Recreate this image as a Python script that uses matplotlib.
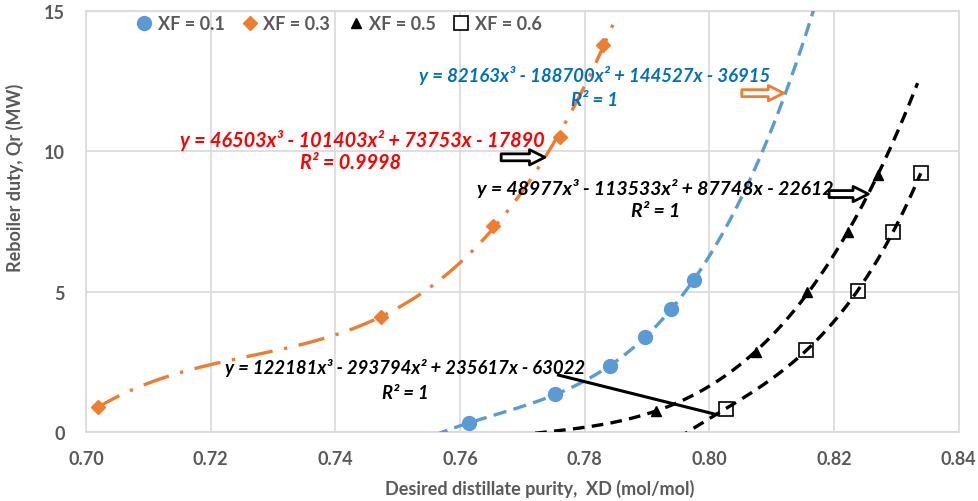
import numpy as np
import matplotlib
matplotlib.use("Agg")
import matplotlib.pyplot as plt

plt.rcParams['font.family'] = ['Lato', 'DejaVu Sans']

# ----------------- DATA -----------------
xd_01 = [0.7614, 0.7752, 0.7841, 0.7897, 0.7939, 0.7975]
qr_01 = [0.31, 1.33, 2.35, 3.38, 4.38, 5.42]

xd_03 = [0.7019, 0.7474, 0.7653, 0.7761, 0.7829]
qr_03 = [0.87, 4.10, 7.35, 10.52, 13.80]

xd_05 = [0.7915, 0.8074, 0.8157, 0.8222, 0.8270]
qr_05 = [0.75, 2.83, 4.97, 7.11, 9.16]

xd_06 = [0.8026, 0.8155, 0.8239, 0.8294, 0.8339]
qr_06 = [0.81, 2.93, 5.01, 7.13, 9.22]

# cubic trendline coefficients as printed (highest power first)
coef_01 = [82163, -188700, 144527, -36915]
coef_03 = [46503, -101403, 73753, -17890]
coef_05 = [48977, -113533, 87748, -22612]
coef_06 = [122181, -293794, 235617, -63022]
r2_01, r2_03, r2_05, r2_06 = "1", "0.9998", "1", "1"

# trendline x-ranges (forecast forward/backward)
range_01 = (0.750, 0.8170)
range_03 = (0.7016, 0.7851)
range_05 = (0.760, 0.8334)
range_06 = (0.790, 0.8339)

GRAY = "#595959"
GRID = "#d9d9d9"
BLUE = "#5B9BD5"
ORANGE = "#ED7D31"


def eq_text(c):
    return f"y = {c[0]}x³ - {-c[1]}x² + {c[2]}x - {-c[3]}"


def trend(xs, ys, coef, rng):
    # keep the printed cubic term, refit the lower terms to the points
    # (the printed coefficients are rounded to integers)
    xs = np.asarray(xs)
    ys = np.asarray(ys)
    low = np.polyfit(xs, ys - coef[0] * xs ** 3, 2)
    xx = np.linspace(rng[0], rng[1], 400)
    return xx, coef[0] * xx ** 3 + np.polyval(low, xx)


# ----------------- FIGURE -----------------
fig = plt.figure(figsize=(9.79, 5.02), dpi=100)
ax = fig.add_axes([0.0878, 0.138, 0.8915, 0.8375])

# markers
ax.plot(xd_01, qr_01, 'o', color=BLUE, ms=10, mec=BLUE, zorder=3, label="XF = 0.1")
ax.plot(xd_03, qr_03, 'D', color=ORANGE, ms=7, mec=ORANGE, zorder=3, label="XF = 0.3")
ax.plot(xd_05, qr_05, '^', color="black", ms=7.5, zorder=3, label="XF = 0.5")
ax.plot(xd_06, qr_06, 's', mfc="white", mec="black", mew=1.2, ms=9.5, zorder=3, label="XF = 0.6")

# cubic trendlines drawn over the markers
xx, yy = trend(xd_01, qr_01, coef_01, range_01)
ax.plot(xx, yy, color=BLUE, lw=2.4, ls=(0, (4, 2.2)), zorder=4)
xx, yy = trend(xd_03, qr_03, coef_03, range_03)
ax.plot(xx, yy, color=ORANGE, lw=2.4, ls=(0, (8, 3.5, 1, 3.5)), zorder=4)
xx, yy = trend(xd_05, qr_05, coef_05, range_05)
ax.plot(xx, yy, color="black", lw=2.4, ls=(0, (3.5, 2.2)), zorder=4)
xx, yy = trend(xd_06, qr_06, coef_06, range_06)
ax.plot(xx, yy, color="black", lw=2.4, ls=(0, (3.5, 2.2)), zorder=4)

# ----------------- AXES -----------------
xticks = np.arange(0.70, 0.8401, 0.02)
ax.set_xlim(0.70, 0.84)
ax.set_ylim(0, 15)
ax.set_xticks(xticks)
ax.set_xticklabels([f"{v:.2f}" for v in xticks])
ax.set_yticks([0, 5, 10, 15])
ax.grid(True, color=GRID, lw=1.2, zorder=0)
ax.set_axisbelow(True)
for s in ax.spines.values():
    s.set_color(GRID)
    s.set_linewidth(1.2)
ax.tick_params(length=0, labelsize=13, labelcolor=GRAY)
ax.tick_params(axis='x', pad=13)
ax.tick_params(axis='y', pad=15)
for lab in ax.get_xticklabels() + ax.get_yticklabels():
    lab.set_fontweight("bold")

ax.set_xlabel("Desired distillate purity,  XD (mol/mol)", fontsize=13,
              fontweight="bold", color=GRAY)
ax.xaxis.set_label_coords(0.52, -0.113)
ax.set_ylabel("Reboiler duty, Qr (MW)", fontsize=13, fontweight="bold", color=GRAY)
ax.yaxis.set_label_coords(-0.071, 0.606)

# legend
leg = ax.legend(loc="center left", bbox_to_anchor=(0.0584, 0.970), ncol=4, frameon=False,
                borderpad=0, borderaxespad=0,
                handlelength=0.8, handletextpad=0.35, columnspacing=1.0,
                prop=dict(size=13, weight="bold"))
for t in leg.get_texts():
    t.set_color(GRAY)

# ----------------- EQUATIONS -----------------
tkw = dict(ha="center", va="center", fontweight="bold", fontstyle="italic", zorder=6)
ax.text(0.7443, 10.44, eq_text(coef_03), color="#FF0000", fontsize=14.3, **tkw)
ax.text(0.7425, 9.61, f"R² = {r2_03}", color="#FF0000", fontsize=14.3, **tkw)
ax.text(0.7816, 12.73, eq_text(coef_01), color="#0070C0", fontsize=13.4, **tkw)
ax.text(0.7816, 11.87, f"R² = {r2_01}", color="#0070C0", fontsize=13.4, **tkw)
ax.text(0.7913, 8.72, eq_text(coef_05), color="black", fontsize=14, **tkw)
ax.text(0.7913, 7.88, f"R² = {r2_05}", color="black", fontsize=14, **tkw)
ax.text(0.7512, 2.30, eq_text(coef_06), color="black", fontsize=13.3, **tkw)
ax.text(0.7512, 1.41, f"R² = {r2_06}", color="black", fontsize=13.3, **tkw)


def block_arrow(tail, head, ec):
    ax.annotate("", xy=head, xytext=tail,
                arrowprops=dict(arrowstyle="simple,head_length=1.1,head_width=1.1,tail_width=0.5",
                                fc="white", ec=ec, lw=2, shrinkA=0, shrinkB=0,
                                mutation_scale=10),
                zorder=6)


block_arrow((0.7666, 9.79), (0.7736, 9.79), "black")
block_arrow((0.8052, 12.08), (0.8119, 12.08), ORANGE)
block_arrow((0.8192, 8.48), (0.8255, 8.48), "black")

# pointer line for the XF = 0.6 equation
ax.plot([0.7758, 0.8012], [2.02, 0.61], color="black", lw=2.2, zorder=6)

fig.savefig("out.png", dpi=100)
